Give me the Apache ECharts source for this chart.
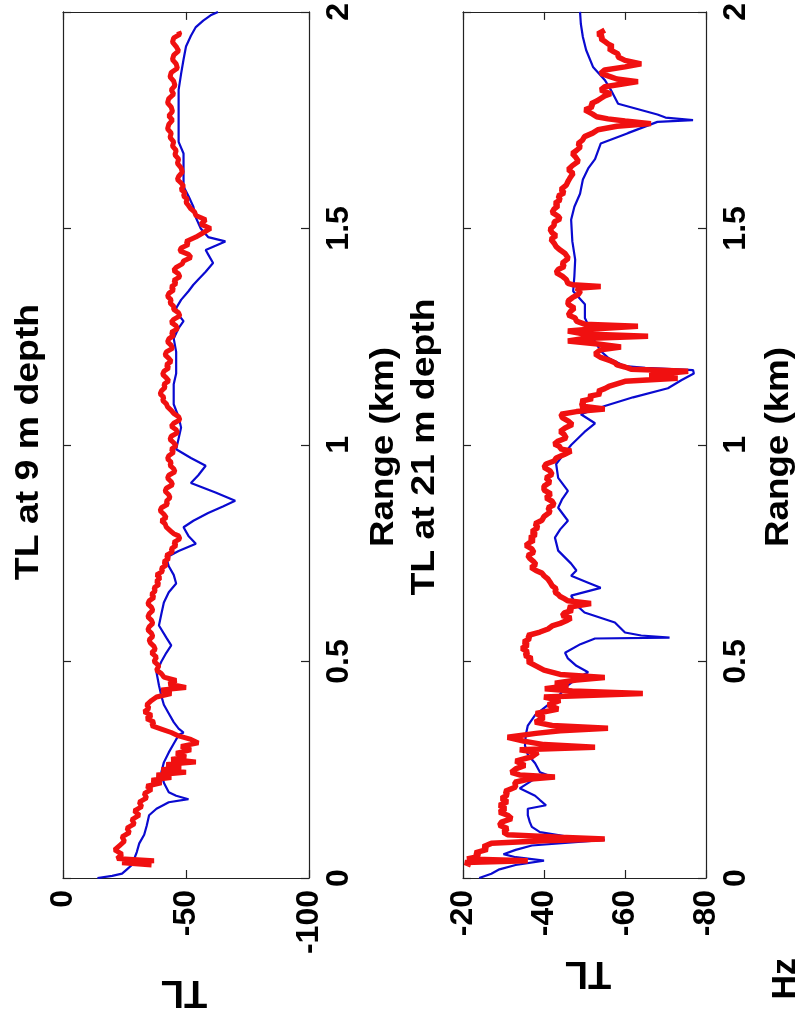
<!DOCTYPE html>
<html>
<head>
<meta charset="utf-8">
<script src="https://cdn.jsdelivr.net/npm/echarts@6/dist/echarts.min.js"></script>
<style>
html,body{margin:0;padding:0;background:#fff;}
#chart{width:795px;height:1023px;}
</style>
</head>
<body>
<div id="chart"></div>
<script>
// Each entry: [range (km), TL (dB)]
const blue9 = [
[0.000,-14],[0.005,-20],[0.010,-24],[0.020,-26],[0.030,-28],[0.045,-29],[0.060,-30],[0.080,-31],[0.100,-33],[0.120,-34],
[0.145,-35],[0.160,-38],[0.175,-43],[0.182,-51],[0.190,-46],[0.198,-43],[0.220,-41],[0.245,-40],[0.267,-41],[0.290,-43],
[0.310,-45],[0.330,-47],[0.336,-49],[0.345,-47],[0.360,-45],[0.380,-43],[0.400,-41],[0.420,-40],[0.445,-39],[0.475,-38],
[0.500,-40],[0.520,-42],[0.537,-44],[0.555,-42],[0.583,-39],[0.610,-40],[0.636,-41],[0.660,-43],[0.680,-46],[0.700,-45],
[0.720,-43],[0.740,-42],[0.755,-47],[0.772,-54],[0.790,-51],[0.810,-49],[0.825,-53],[0.843,-59],[0.858,-65],[0.871,-70],
[0.890,-62],[0.912,-52],[0.930,-55],[0.952,-58],[0.970,-52],[0.990,-46],[1.015,-47],[1.040,-48],[1.065,-47],[1.094,-45],
[1.120,-45],[1.140,-45],[1.165,-46],[1.187,-46],[1.215,-46],[1.246,-45],[1.270,-47],[1.286,-49],[1.300,-47],[1.316,-46],
[1.335,-48],[1.355,-51],[1.370,-53],[1.382,-55],[1.400,-58],[1.420,-61],[1.440,-59],[1.450,-58],[1.460,-62],[1.470,-66],
[1.480,-59],[1.500,-56],[1.525,-54],[1.550,-53],[1.575,-51],[1.597,-49],[1.630,-49],[1.673,-49],[1.700,-47],[1.720,-47],
[1.750,-47],[1.780,-47],[1.820,-47],[1.857,-48],[1.890,-49],[1.920,-50],[1.945,-52],[1.965,-54],[1.980,-57],[1.992,-60],[2.000,-63]
];
const red9 = [
[0.030,-36],[0.035,-24],[0.040,-37],[0.045,-22],[0.055,-24],[0.065,-21],[0.075,-23],[0.085,-25],[0.095,-24],[0.105,-27],
[0.115,-26],[0.125,-29],[0.135,-28],[0.145,-31],[0.155,-29],[0.165,-32],[0.175,-31],[0.185,-34],[0.195,-33],[0.205,-36],
[0.212,-34],[0.220,-40],[0.226,-36],[0.232,-44],[0.238,-38],[0.244,-50],[0.250,-40],[0.256,-48],[0.262,-42],[0.268,-54],
[0.274,-44],[0.280,-50],[0.288,-46],[0.296,-52],[0.304,-48],[0.312,-55],[0.320,-52],[0.328,-47],[0.336,-44],[0.344,-40],
[0.352,-36],[0.360,-37],[0.368,-34],[0.376,-36],[0.384,-33],[0.392,-35],[0.400,-34],[0.410,-36],[0.418,-38],[0.426,-44],
[0.434,-40],[0.440,-50],[0.448,-43],[0.456,-46],[0.464,-41],[0.472,-40],[0.480,-38],[0.490,-39],[0.500,-37],[0.510,-38],
[0.520,-36],[0.528,-37.5],[0.535,-37],[0.543,-35.5],[0.550,-35],[0.558,-36.5],[0.565,-36],[0.573,-34.5],[0.580,-35],[0.588,-36.5],
[0.595,-36],[0.603,-34.5],[0.610,-35],[0.618,-36.5],[0.625,-36],[0.633,-34.5],[0.640,-35],[0.648,-37],[0.655,-36],[0.663,-37.5],
[0.670,-37],[0.678,-39],[0.685,-38],[0.693,-39.5],[0.700,-38],[0.708,-40.5],[0.715,-40],[0.723,-42],[0.730,-41],[0.738,-43],
[0.745,-42],[0.753,-44.5],[0.760,-44],[0.768,-46],[0.775,-45],[0.783,-47.5],[0.790,-47],[0.795,-45],[0.800,-44],[0.810,-42],
[0.818,-41.5],[0.825,-40],[0.832,-42],[0.840,-41],[0.848,-39.5],[0.855,-40],[0.863,-42.5],[0.870,-42],[0.878,-43.5],[0.885,-43],
[0.893,-41.5],[0.900,-42],[0.908,-44.5],[0.915,-44],[0.923,-42.5],[0.930,-43],[0.938,-45.5],[0.945,-45],[0.953,-43.5],[0.960,-44],
[0.968,-42.5],[0.975,-43],[0.983,-45],[0.990,-44],[0.998,-46],[1.005,-45],[1.013,-43.5],[1.020,-44],[1.028,-46.5],[1.035,-46],
[1.043,-44],[1.050,-45],[1.058,-47.5],[1.065,-47],[1.073,-45],[1.080,-44],[1.088,-42.5],[1.095,-42],[1.103,-40.5],[1.110,-41],
[1.118,-39.5],[1.125,-40],[1.133,-41.5],[1.140,-41],[1.148,-43],[1.155,-42],[1.163,-40.5],[1.170,-41],[1.178,-43],[1.185,-42],
[1.193,-44],[1.200,-43],[1.208,-41.5],[1.215,-42],[1.223,-44.5],[1.230,-44],[1.238,-42.5],[1.245,-43],[1.253,-45],[1.260,-44],
[1.268,-46.5],[1.275,-46],[1.283,-44],[1.290,-45],[1.298,-47.5],[1.305,-47],[1.313,-45],[1.320,-45],[1.328,-43.5],[1.335,-44],
[1.343,-42.5],[1.350,-43],[1.358,-45],[1.365,-44],[1.373,-46],[1.380,-45],[1.388,-47.5],[1.395,-47],[1.403,-45],[1.410,-46],
[1.418,-48.5],[1.425,-49],[1.433,-52],[1.440,-51],[1.448,-47.5],[1.455,-48],[1.463,-51],[1.470,-50],[1.480,-54],[1.490,-57],
[1.500,-60],[1.510,-56],[1.520,-58],[1.530,-54],[1.538,-53.5],[1.545,-52],[1.553,-51],[1.560,-50],[1.568,-50.5],[1.575,-49],
[1.583,-49.5],[1.590,-48],[1.598,-49],[1.605,-48],[1.613,-46.5],[1.620,-47],[1.630,-48.5],[1.640,-48],[1.650,-46.5],[1.660,-47],
[1.670,-45.5],[1.680,-46],[1.690,-44.5],[1.700,-45],[1.710,-43.5],[1.720,-44],[1.730,-42.5],[1.740,-43],[1.750,-44.5],[1.760,-43],
[1.770,-44.5],[1.780,-44],[1.790,-42.5],[1.800,-43],[1.810,-45],[1.820,-44],[1.830,-45.5],[1.840,-45],[1.850,-43.5],[1.860,-44],
[1.870,-46.5],[1.880,-46],[1.890,-44.5],[1.900,-45],[1.910,-47],[1.920,-46],[1.930,-44.5],[1.940,-45],[1.948,-47.5],[1.955,-47]
];
const blue21 = [
[0.000,-24],[0.010,-27],[0.020,-29],[0.030,-33],[0.040,-40],[0.048,-33],[0.055,-30],[0.065,-33],[0.075,-37],[0.088,-55],
[0.097,-45],[0.106,-39],[0.118,-37],[0.129,-36.5],[0.145,-36],[0.160,-36],[0.168,-40.5],[0.180,-39],[0.190,-37.8],[0.207,-34],
[0.225,-37],[0.237,-41],[0.244,-39],[0.265,-37.8],[0.285,-36],[0.306,-35.3],[0.330,-35.5],[0.352,-36],[0.376,-37.8],[0.405,-41.7],
[0.425,-44],[0.445,-45.9],[0.460,-48],[0.475,-50.9],[0.490,-48],[0.507,-45.9],[0.520,-45.2],[0.540,-49],[0.553,-52.6],[0.555,-71],
[0.560,-64],[0.567,-60],[0.590,-57.5],[0.613,-50],[0.630,-48],[0.652,-46.7],[0.670,-54],[0.682,-50.9],[0.698,-46.7],[0.710,-48],
[0.726,-46.7],[0.756,-43.5],[0.786,-42.7],[0.805,-44],[0.825,-45.9],[0.855,-43.5],[0.875,-44.5],[0.894,-45.9],[0.924,-43.5],[0.956,-43],
[0.980,-45],[1.000,-46.7],[1.030,-50],[1.050,-52.6],[1.071,-49.1],[1.090,-55],[1.110,-62],[1.131,-70.6],[1.150,-74],[1.165,-77],
[1.173,-76.8],[1.178,-65],[1.182,-60],[1.200,-56],[1.217,-54],[1.240,-52.5],[1.263,-51.6],[1.293,-50.1],[1.325,-50.1],[1.355,-47.2],
[1.390,-47.5],[1.428,-47.7],[1.470,-47],[1.520,-46.7],[1.550,-47.5],[1.580,-48.9],[1.613,-49.6],[1.640,-51],[1.660,-52.6],[1.696,-54],
[1.720,-60.7],[1.746,-68],[1.750,-76.8],[1.756,-70],[1.763,-68],[1.788,-58.3],[1.820,-56.5],[1.843,-55],[1.873,-52.1],[1.912,-50.4],
[1.942,-49.6],[1.972,-49.1],[2.000,-48.9]
];
const red21 = [
[0.030,-22],[0.036,-20.5],[0.040,-36],[0.044,-21],[0.050,-24],[0.058,-23],[0.066,-26],[0.072,-25],[0.080,-27],[0.086,-40],
[0.090,-55],[0.094,-44],[0.100,-31],[0.106,-30],[0.114,-31],[0.122,-29],[0.129,-29.5],[0.137,-32],[0.145,-31],[0.152,-29],
[0.160,-30.5],[0.168,-29],[0.176,-31],[0.184,-29.5],[0.192,-31],[0.200,-30.4],[0.210,-33],[0.221,-32.8],[0.228,-36],[0.233,-42.7],
[0.238,-34],[0.244,-31.9],[0.252,-33],[0.260,-35.3],[0.270,-33],[0.280,-37],[0.290,-38.5],[0.296,-34],[0.302,-52.6],[0.308,-40],
[0.316,-35],[0.325,-31],[0.334,-38],[0.340,-44],[0.346,-55.8],[0.352,-42],[0.360,-37.8],[0.370,-40],[0.380,-38],[0.390,-43.5],
[0.400,-41],[0.410,-44],[0.418,-40],[0.426,-64.4],[0.432,-47],[0.437,-40.2],[0.444,-46],[0.450,-42.7],[0.457,-48],[0.463,-55],
[0.470,-44],[0.480,-40],[0.490,-38],[0.500,-36],[0.507,-37],[0.514,-35.3],[0.522,-36],[0.530,-34.5],[0.538,-36],[0.545,-35],
[0.553,-36.5],[0.560,-36],[0.568,-39],[0.575,-41],[0.582,-42],[0.588,-44],[0.594,-45.5],[0.600,-46.7],[0.606,-44.5],[0.612,-45],
[0.618,-47],[0.625,-46],[0.634,-51.6],[0.640,-45.9],[0.645,-45],[0.650,-44],[0.655,-43.5],[0.660,-42.7],[0.668,-43],[0.675,-42],
[0.683,-41.5],[0.690,-41],[0.698,-40],[0.704,-39.5],[0.710,-38],[0.717,-36.8],[0.724,-38],[0.730,-37.5],[0.738,-36.5],[0.745,-36],
[0.752,-37.5],[0.760,-37],[0.768,-35.5],[0.775,-36.5],[0.780,-37.5],[0.786,-36.5],[0.793,-38],[0.800,-37],[0.809,-38.5],[0.818,-37.8],
[0.826,-39.5],[0.835,-40],[0.845,-41.5],[0.855,-41],[0.862,-42.5],[0.870,-42],[0.878,-40.5],[0.887,-41.7],[0.896,-40],[0.905,-40],
[0.914,-41.5],[0.924,-40.5],[0.932,-42],[0.940,-41.5],[0.948,-40],[0.956,-40.5],[0.963,-42.5],[0.970,-43],[0.978,-45],[0.986,-46.7],
[0.991,-44],[0.996,-44],[1.002,-42.5],[1.009,-43.5],[1.016,-45.5],[1.024,-45],[1.031,-44],[1.039,-45.2],[1.047,-47],[1.055,-46],
[1.063,-44.5],[1.071,-44.2],[1.077,-48],[1.083,-55],[1.090,-49],[1.096,-50],[1.101,-49.1],[1.107,-52],[1.112,-51],[1.118,-54],
[1.124,-53.3],[1.130,-55],[1.135,-56],[1.141,-58],[1.147,-60],[1.154,-73],[1.160,-66],[1.165,-70],[1.170,-75.6],[1.175,-61.5],
[1.180,-60],[1.185,-58],[1.190,-57.5],[1.194,-56.5],[1.202,-54],[1.210,-52.6],[1.220,-54],[1.226,-59],[1.233,-53.3],[1.240,-45.9],
[1.246,-50],[1.251,-65.7],[1.256,-50],[1.263,-45.9],[1.268,-52],[1.274,-63.2],[1.279,-50],[1.286,-48],[1.293,-47.7],[1.300,-46],
[1.308,-46.5],[1.316,-47.5],[1.325,-45.9],[1.333,-46],[1.340,-47],[1.348,-48.5],[1.355,-49],[1.362,-48],[1.366,-54],[1.370,-47],
[1.373,-45.9],[1.382,-45.5],[1.390,-44.5],[1.398,-43],[1.405,-43.5],[1.412,-45],[1.420,-44.5],[1.431,-46],[1.442,-45.2],[1.450,-44],
[1.458,-43],[1.466,-42.5],[1.475,-41.7],[1.483,-43],[1.490,-42],[1.498,-41.5],[1.507,-42.5],[1.515,-42.5],[1.522,-44],[1.528,-43.5],
[1.537,-42],[1.545,-42.5],[1.552,-43.5],[1.558,-42.7],[1.566,-44],[1.575,-43.5],[1.582,-45],[1.590,-44.2],[1.600,-45.5],[1.610,-46],
[1.618,-46.5],[1.627,-47.2],[1.636,-46],[1.645,-47],[1.655,-48.5],[1.666,-47.7],[1.673,-47],[1.680,-48],[1.688,-49],[1.696,-48.4],
[1.704,-49.5],[1.712,-50],[1.720,-52],[1.728,-53.3],[1.736,-58],[1.742,-66.4],[1.748,-60],[1.753,-55.8],[1.758,-53],[1.764,-52],
[1.769,-51],[1.774,-50.1],[1.781,-52],[1.788,-51.6],[1.794,-53],[1.800,-54],[1.806,-55],[1.811,-56.5],[1.816,-55],[1.820,-54],
[1.827,-55],[1.833,-59],[1.839,-63.2],[1.845,-58],[1.850,-56.5],[1.858,-54],[1.866,-55],[1.873,-60],[1.880,-64],[1.888,-60],
[1.896,-58.3],[1.903,-58.3],[1.909,-57],[1.915,-56],[1.920,-57],[1.926,-55.8],[1.932,-55],[1.938,-54],[1.944,-54.5],[1.949,-53.3],[1.958,-55]
];

const titles = ['TL at 9 m depth', 'TL at 21 m depth'];
const xName = 'Range (km)';
const yName = 'TL';

const FONT = '"Liberation Sans", Arial, Helvetica, sans-serif';
const toXY = arr => arr.map(p => [p[1], p[0]]);

const axisLineStyle = { color: '#222', width: 1.2 };
function tlAxis(grid, min, max, interval, pos, labels) {
  return {
    gridIndex: grid, type: 'value', min: min, max: max, interval: interval, inverse: true,
    position: pos,
    axisLine: { show: true, onZero: false, lineStyle: axisLineStyle },
    axisTick: { show: true, inside: true, length: 8, lineStyle: axisLineStyle },
    axisLabel: labels ? { show: true, rotate: 90, margin: 12, fontSize: 32, fontWeight: 'bold', color: '#000', fontFamily: FONT } : { show: false },
    splitLine: { show: false }
  };
}
function rangeAxis(grid, pos, labels) {
  return {
    gridIndex: grid, type: 'value', min: 0, max: 2, interval: 0.5,
    position: pos,
    axisLine: { show: true, onZero: false, lineStyle: axisLineStyle },
    axisTick: { show: true, inside: true, length: 8, lineStyle: axisLineStyle },
    axisLabel: labels ? { show: true, rotate: 90, margin: 14, fontSize: 32, fontWeight: 'bold', color: '#000', fontFamily: FONT } : { show: false },
    splitLine: { show: false }
  };
}

function txt(text, x, y, rot, size, sx) {
  return {
    type: 'text', x: x, y: y, rotation: rot, scaleX: sx || 1, scaleY: 1,
    style: { text: text, fill: '#000', font: 'bold ' + size + 'px ' + FONT, textAlign: 'center', textVerticalAlign: 'middle' }
  };
}

const chart = echarts.init(document.getElementById('chart'), null, { renderer: 'canvas' });
chart.setOption({
  backgroundColor: '#fff',
  animation: false,
  grid: [
    { left: 63, top: 10, width: 246, height: 868 },
    { left: 463, top: 10, width: 243, height: 868 }
  ],
  xAxis: [
    tlAxis(0, -100, 0, 50, 'bottom', true),
    tlAxis(0, -100, 0, 50, 'top', false),
    tlAxis(1, -80, -20, 20, 'bottom', true),
    tlAxis(1, -80, -20, 20, 'top', false)
  ],
  yAxis: [
    rangeAxis(0, 'right', true),
    rangeAxis(0, 'left', false),
    rangeAxis(1, 'right', true),
    rangeAxis(1, 'left', false)
  ],
  series: [
    { type: 'line', xAxisIndex: 0, yAxisIndex: 0, data: toXY(blue9), showSymbol: false, lineStyle: { color: '#0a0ad0', width: 2.2 }, z: 2 },
    { type: 'line', xAxisIndex: 0, yAxisIndex: 0, data: toXY(red9), showSymbol: false, lineStyle: { color: '#f01010', width: 5 }, z: 3 },
    { type: 'line', xAxisIndex: 2, yAxisIndex: 2, data: toXY(blue21), showSymbol: false, lineStyle: { color: '#0a0ad0', width: 2.2 }, z: 2 },
    { type: 'line', xAxisIndex: 2, yAxisIndex: 2, data: toXY(red21), showSymbol: false, lineStyle: { color: '#f01010', width: 5.5 }, z: 3 }
  ],
  graphic: [
    txt(titles[0], 29, 442, Math.PI / 2, 34, 1.1),
    txt(titles[1], 425, 447, Math.PI / 2, 34, 1.1),
    txt(xName, 384, 447, Math.PI / 2, 34, 1.08),
    txt(xName, 779, 447, Math.PI / 2, 34, 1.08),
    txt(yName, 184, 991, Math.PI, 38, 1),
    txt(yName, 588, 972, Math.PI, 38, 1),
    { type: 'text', x: 803, y: 958, rotation: Math.PI / 2,
      style: { text: 'Hz', fill: '#000', font: 'bold 34px ' + FONT, textAlign: 'right', textVerticalAlign: 'bottom' } }
  ]
});
</script>
</body>
</html>
